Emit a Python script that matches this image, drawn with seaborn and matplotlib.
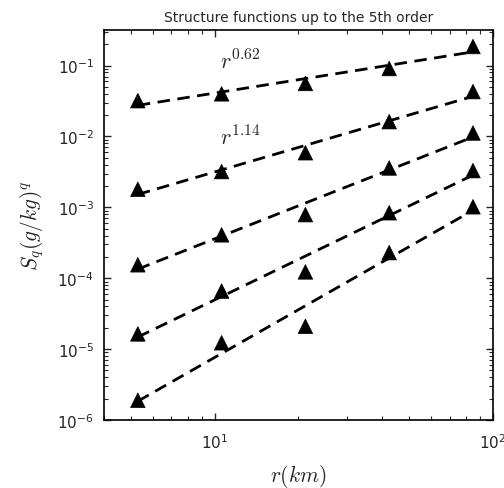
import numpy as np
import pandas as pd
import matplotlib
matplotlib.use("Agg")
import matplotlib.pyplot as plt
import seaborn as sns

# separation distances (km)
r_km = [5.3, 10.6, 21.2, 42.4, 84.8]

# structure function values for orders q = 1..5
s_q1 = [0.032, 0.040, 0.056, 0.091, 0.186]
s_q2 = [1.8e-3, 3.2e-3, 5.9e-3, 1.62e-2, 4.3e-2]
s_q3 = [1.55e-4, 4.1e-4, 7.9e-4, 3.6e-3, 1.12e-2]
s_q4 = [1.64e-5, 6.6e-5, 1.23e-4, 8.4e-4, 3.3e-3]
s_q5 = [1.9e-6, 1.23e-5, 2.1e-5, 2.3e-4, 1.02e-3]

orders = [1, 2, 3, 4, 5]
exponent_labels = ["0.62", "1.14"]

sns.set_style("ticks")
plt.rcParams["font.family"] = ["DejaVu Sans"]
plt.rcParams["mathtext.fontset"] = "cm"
plt.rcParams["axes.unicode_minus"] = False

rows = []
for q, vals in zip(orders, [s_q1, s_q2, s_q3, s_q4, s_q5]):
    lx = np.log10(r_km)
    ly = np.log10(vals)
    slope, icpt = np.polyfit(lx, ly, 1)
    fit = 10 ** (icpt + slope * lx)
    for x, y, f in zip(r_km, vals, fit):
        rows.append({"r": x, "S": y, "fit": f, "q": q})
df = pd.DataFrame(rows)

fig, ax = plt.subplots(figsize=(5.04, 4.89), dpi=100)
fig.subplots_adjust(left=0.206, right=0.978, top=0.937, bottom=0.139)

black = ["black"] * len(orders)
sns.lineplot(data=df, x="r", y="fit", hue="q", palette=black, legend=False,
             lw=2, ax=ax, dashes=False)
for line in ax.get_lines():
    line.set_dashes((4.5, 2.7))
sns.scatterplot(data=df, x="r", y="S", hue="q", palette=black, legend=False,
                marker="^", s=110, edgecolor="black", linewidth=0.5,
                ax=ax, zorder=3)

ax.set_xscale("log")
ax.set_yscale("log")
ax.set_xlim(4, 100)
ax.set_ylim(1e-6, 0.32)

ax.text(10.5, 0.09, r"$r^{%s}$" % exponent_labels[0], fontsize=16)
ax.text(10.5, 7.6e-3, r"$r^{%s}$" % exponent_labels[1], fontsize=16)

ax.set_title("Structure functions up to the 5th order", fontsize=10)
ax.set_xlabel(r"$r(km)$", fontsize=15.5, labelpad=8)
ax.set_ylabel(r"$S_q(g/kg)^q$", fontsize=15.5, labelpad=8)

ax.tick_params(which="both", direction="in", top=True, right=True,
               labelsize=11)
ax.tick_params(axis="x", which="major", pad=9)
ax.tick_params(axis="y", which="major", pad=7)
ax.tick_params(which="major", length=5, width=1)
ax.tick_params(which="minor", length=3, width=0.8)
for sp in ax.spines.values():
    sp.set_linewidth(1.2)
    sp.set_color("black")

fig.savefig("out.png", dpi=100)
